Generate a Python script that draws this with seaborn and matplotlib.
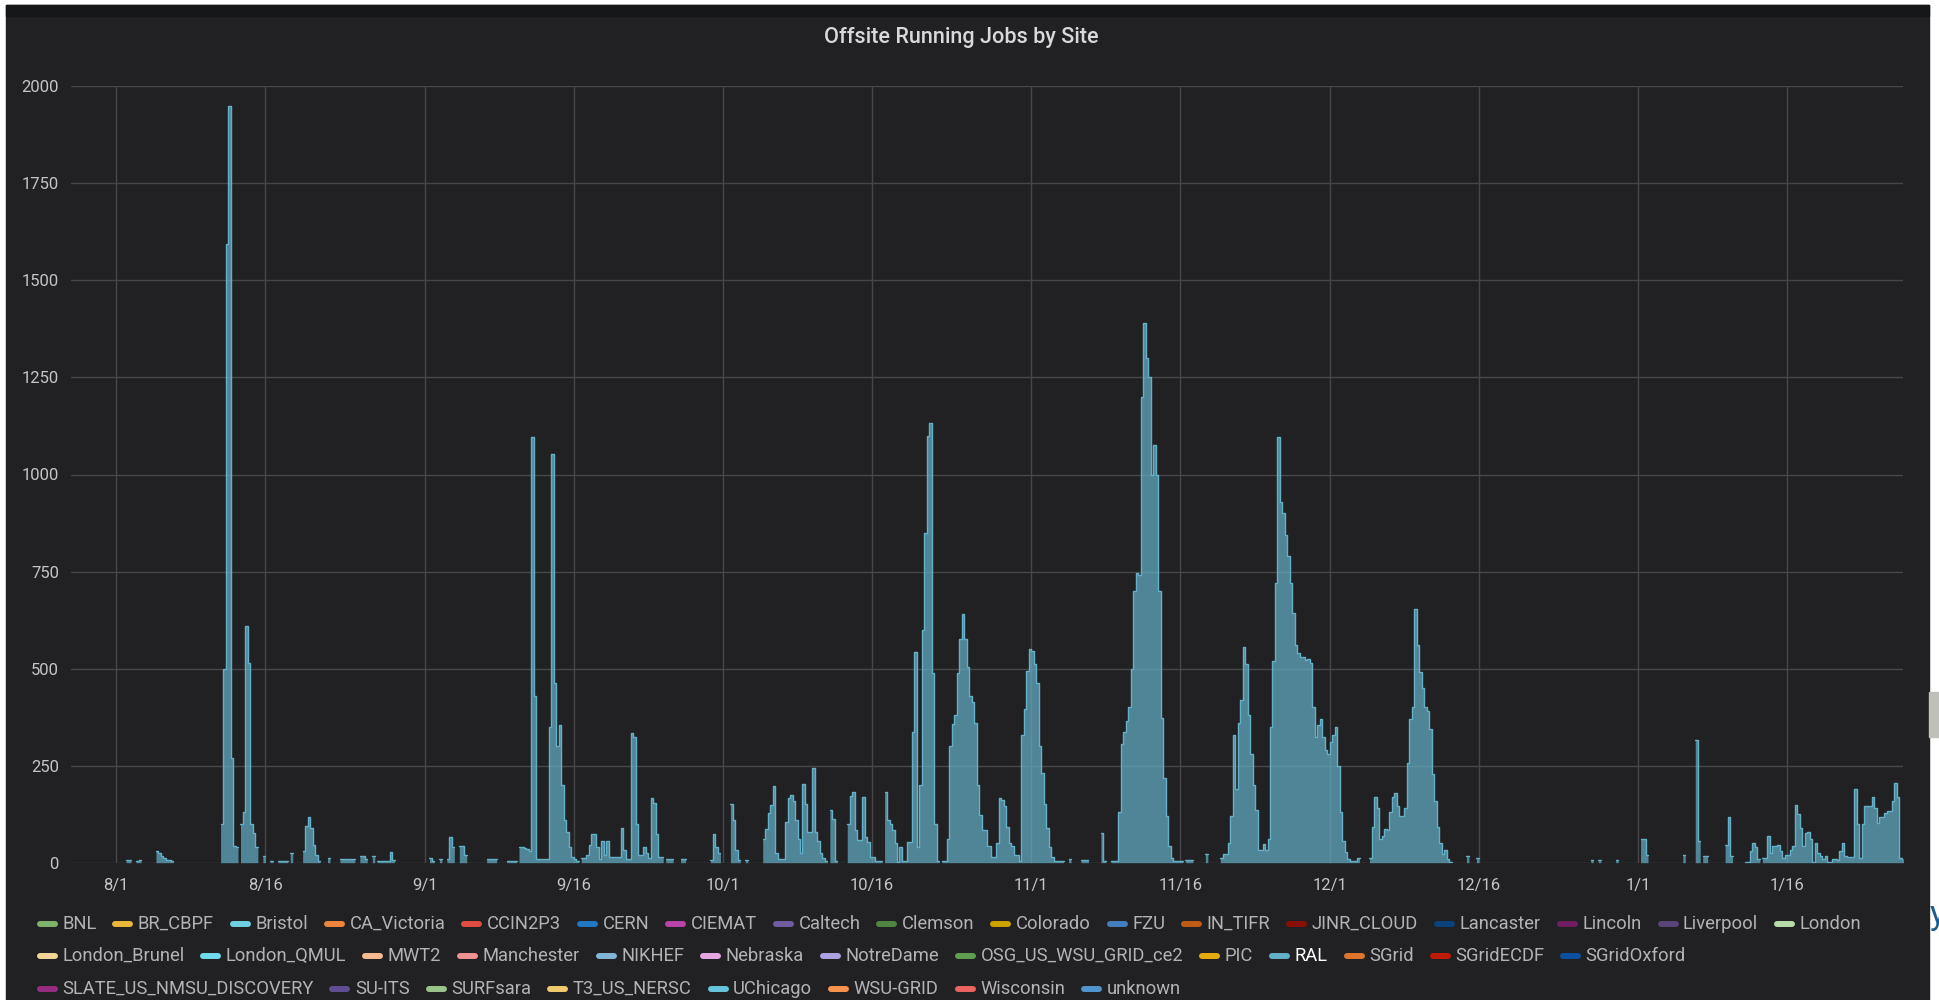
import matplotlib
matplotlib.use('Agg')
import matplotlib.pyplot as plt
from matplotlib.lines import Line2D
from matplotlib.patches import Rectangle
import numpy as np
import pandas as pd
import seaborn as sns

# RAL running jobs: one row per day, 4 values = 6-hour bins
jul = [[0, 0, 0, 0], [0, 0, 0, 0], [0, 0, 0, 0], [0, 0, 0, 0]]  # 28-31

aug = [
    [0, 0, 0, 0], [8, 8, 0, 0], [5, 8, 0, 0], [0, 0, 0, 0], [31, 25, 18, 12],           # 1-5
    [8, 6, 5, 0], [0, 0, 0, 0], [0, 0, 0, 0], [0, 0, 0, 0], [0, 0, 0, 0],               # 6-10
    [0, 0, 100, 500], [1593, 1948, 270, 43], [40, 0, 100, 131], [609, 514, 100, 76],
    [40, 0, 0, 16],                                                                     # 11-15
    [0, 0, 5, 0], [0, 4, 4, 4], [4, 0, 26, 0], [0, 0, 0, 29], [94, 118, 90, 46],        # 16-20
    [20, 5, 0, 0], [0, 12, 0, 0], [0, 0, 9, 9], [9, 9, 9, 9], [0, 0, 18, 18],           # 21-25
    [10, 0, 0, 18], [0, 5, 5, 5], [5, 5, 27, 8], [0, 0, 0, 0], [0, 0, 0, 0],            # 26-30
    [0, 0, 0, 0],                                                                       # 31
]

sep = [
    [0, 0, 12, 5], [0, 0, 9, 0], [0, 10, 65, 40], [0, 0, 43, 43], [20, 0, 0, 0],        # 1-5
    [0, 0, 0, 0], [0, 9, 9, 9], [9, 0, 0, 0], [0, 5, 5, 5], [5, 0, 40, 40],             # 6-10
    [38, 35, 31, 1096], [429, 9, 9, 9], [9, 9, 350, 1053], [462, 300, 355, 200],
    [110, 80, 41, 15],                                                                  # 11-15
    [10, 5, 0, 11], [11, 20, 45, 74], [74, 41, 10, 56], [20, 56, 14, 14], [14, 14, 14, 90],  # 16-20
    [33, 10, 10, 333], [324, 100, 20, 20], [41, 24, 11, 166], [153, 75, 15, 15],
    [0, 9, 9, 9],                                                                       # 21-25
    [0, 0, 0, 9], [9, 0, 0, 0], [0, 0, 0, 0], [0, 0, 0, 8], [75, 40, 24, 0],            # 26-30
]

octo = [
    [0, 0, 0, 150], [110, 33, 7, 0], [0, 7, 0, 0], [0, 0, 0, 0], [60, 88, 127, 148],    # 1-5
    [198, 24, 9, 9], [9, 105, 166, 174], [160, 110, 60, 24], [204, 150, 80, 80],
    [243, 80, 55, 24],                                                                  # 6-10
    [11, 5, 0, 137], [112, 5, 0, 0], [0, 0, 100, 171], [183, 84, 58, 58],
    [168, 67, 54, 15],                                                                  # 11-15
    [15, 5, 5, 5], [0, 181, 110, 100], [84, 50, 3, 41], [5, 5, 54, 54],
    [337, 542, 40, 200],                                                                # 16-20
    [600, 850, 1099, 1133], [488, 100, 5, 0], [5, 5, 60, 300], [357, 380, 489, 576],
    [640, 576, 503, 430],                                                               # 21-25
    [415, 360, 200, 122], [83, 83, 44, 44], [15, 15, 50, 166], [161, 147, 93, 50],
    [44, 20, 20, 5],                                                                    # 26-30
    [330, 396, 493, 550],                                                               # 31
]

nov = [
    [545, 513, 464, 300], [230, 150, 90, 40], [15, 5, 5, 5], [5, 0, 0, 10], [0, 0, 0, 0],  # 1-5
    [7, 7, 7, 0], [0, 0, 0, 0], [76, 5, 0, 0], [5, 5, 5, 130], [307, 336, 366, 400],    # 6-10
    [500, 700, 747, 740], [1200, 1390, 1300, 1250], [1000, 1075, 1000, 700],
    [372, 219, 120, 42], [13, 5, 5, 5],                                                 # 11-15
    [5, 0, 8, 8], [8, 0, 0, 0], [0, 0, 22, 0], [0, 0, 0, 0], [13, 22, 22, 52],          # 16-20
    [120, 330, 190, 360], [420, 555, 511, 380], [280, 200, 135, 32], [32, 47, 32, 60],
    [350, 520, 721, 1097],                                                              # 21-25
    [930, 902, 843, 790], [720, 643, 560, 540], [530, 530, 521, 526],
    [515, 400, 325, 355], [370, 325, 290, 281],                                         # 26-30
]

dec = [
    [310, 330, 350, 250], [130, 57, 27, 10], [5, 5, 5, 13], [0, 0, 0, 0],
    [13, 91, 169, 140],                                                                 # 1-5
    [60, 70, 86, 85], [130, 169, 179, 145], [120, 120, 140, 257], [369, 400, 653, 560],
    [491, 450, 400, 390],                                                               # 6-10
    [345, 228, 160, 91], [50, 22, 32, 10], [3, 0, 0, 0], [0, 0, 0, 18], [0, 0, 0, 13],  # 11-15
    [0, 0, 0, 0], [0, 0, 0, 0], [0, 0, 0, 0], [0, 0, 0, 0], [0, 0, 0, 0],               # 16-20
    [0, 0, 0, 0], [0, 0, 0, 0], [0, 0, 0, 0], [0, 0, 0, 0], [0, 0, 0, 0],               # 21-25
    [0, 0, 0, 0], [0, 8, 0, 0], [8, 0, 0, 0], [0, 0, 0, 6], [0, 0, 0, 0],               # 26-30
    [0, 0, 0, 0],                                                                       # 31
]

jan = [
    [0, 62, 62, 20], [0, 0, 0, 0], [0, 0, 0, 0], [0, 0, 0, 0], [0, 0, 19, 0],           # 1-5
    [0, 0, 0, 316], [55, 0, 16, 16], [0, 0, 0, 0], [0, 0, 0, 46], [117, 16, 0, 0],      # 6-10
    [0, 0, 0, 3], [3, 29, 52, 40], [10, 0, 12, 12], [68, 25, 44, 44], [46, 30, 12, 21], # 11-15
    [21, 33, 42, 149], [125, 90, 42, 76], [78, 60, 3, 50], [25, 18, 10, 18],
    [3, 3, 9, 9],                                                                       # 16-20
    [8, 30, 52, 18], [15, 15, 15, 189], [100, 11, 100, 146], [146, 146, 169, 140],
    [102, 119, 119, 128],                                                               # 21-25
    [132, 134, 160, 205], [170, 12, 10, 10],                                            # 26-27
]

tick_dates = ['2018-08-01', '2018-08-16', '2018-09-01', '2018-09-16', '2018-10-01',
              '2018-10-16', '2018-11-01', '2018-11-16', '2018-12-01', '2018-12-16',
              '2019-01-01', '2019-01-16']
y_ticks = [0, 250, 500, 750, 1000, 1250, 1500, 1750, 2000]

row1 = ['BNL', 'BR_CBPF', 'Bristol', 'CA_Victoria', 'CCIN2P3', 'CERN', 'CIEMAT', 'Caltech',
        'Clemson', 'Colorado', 'FZU', 'IN_TIFR', 'JINR_CLOUD', 'Lancaster', 'Lincoln',
        'Liverpool', 'London']
row2 = ['London_Brunel', 'London_QMUL', 'MWT2', 'Manchester', 'NIKHEF', 'Nebraska', 'NotreDame',
        'OSG_US_WSU_GRID_ce2', 'PIC', 'RAL', 'SGrid', 'SGridECDF', 'SGridOxford']
row3 = ['SLATE_US_NMSU_DISCOVERY', 'SU-ITS', 'SURFsara', 'T3_US_NERSC', 'UChicago', 'WSU-GRID',
        'Wisconsin', 'unknown']

palette = ['#7EB26D', '#EAB839', '#6ED0E0', '#EF843C', '#E24D42', '#1F78C1', '#BA43A9', '#705DA0',
           '#508642', '#CCA300', '#447EBC', '#C15C17', '#890F02', '#0A437C', '#6D1F62', '#584477',
           '#B7DBAB', '#F4D598', '#70DBED', '#F9BA8F', '#F29191', '#82B5D8', '#E5A8E2', '#AEA2E0',
           '#629E51', '#E5AC0E', '#64B0C8', '#E0752D', '#BF1B00', '#0A50A1', '#962D82', '#614D93',
           '#9AC48A', '#F2C96D', '#65C5DB', '#F9934E', '#EA6460', '#5195CE']

# series
jobs = np.array(jul + aug + sep + octo + nov + dec + jan, dtype=float).ravel()
times = pd.date_range('2018-07-28', periods=len(jobs) + 1, freq='6h')
fill_y = np.append(jobs, jobs[-1])

# outline only where jobs are running (gaps stay empty like grafana nulls)
rows = []
run = 0
for i, v in enumerate(jobs):
    if v <= 0:
        continue
    if i == 0 or jobs[i - 1] <= 0:
        run += 1
    rows.append((times[i], v, run))
    if i + 1 == len(jobs) or jobs[i + 1] <= 0:
        rows.append((times[i + 1], v, run))
line_df = pd.DataFrame(rows, columns=['time', 'jobs', 'run'])

W, H = 1939, 1000
PANEL = '#212124'
RAL = '#64B0C8'

sns.set_theme(style='dark', rc={'axes.facecolor': PANEL, 'figure.facecolor': 'white'})
plt.rcParams['font.family'] = ['Roboto', 'DejaVu Sans']

fig = plt.figure(figsize=(W / 100, H / 100), dpi=100)
fig.patches.append(Rectangle((6 / W, 0), 1923 / W, 0.995, transform=fig.transFigure,
                             color=PANEL, zorder=-10))
fig.patches.append(Rectangle((6 / W, 0.984), 1923 / W, 0.011, transform=fig.transFigure,
                             color='#161719', zorder=-9))
fig.patches.append(Rectangle((1929 / W, 0.263), 10 / W, 0.045, transform=fig.transFigure,
                             color='#c0c0bb', zorder=-9))
fig.text(1930 / W, 0.085, 'y', fontsize=24, color='#1d5c8c', va='center', ha='left')

ax = fig.add_axes([0.03687, 0.1373, 0.94472, 0.7764])

ax.fill_between(times, fill_y, step='post', color=RAL, alpha=0.7, linewidth=0)
sns.lineplot(data=line_df, x='time', y='jobs', units='run', estimator=None,
             drawstyle='steps-post', color=RAL, linewidth=1, ax=ax, legend=False)

ax.set_xlim(pd.Timestamp('2018-07-27 12:15'), pd.Timestamp('2019-01-27 16:00'))
ax.set_ylim(0, 2000)
ax.set_yticks(y_ticks)
ax.set_yticklabels([str(v) for v in y_ticks])
tick_ts = [pd.Timestamp(d) for d in tick_dates]
ax.set_xticks(tick_ts)
ax.set_xticklabels([f'{d.month}/{d.day}' for d in tick_ts])
ax.set_xlabel('')
ax.set_ylabel('')

ax.grid(True, color='#47474a', linewidth=1)
for s in ax.spines.values():
    s.set_visible(False)
ax.tick_params(axis='both', length=0, colors='#c4c5c7', labelsize=12)
ax.tick_params(axis='x', pad=11)
ax.tick_params(axis='y', pad=9)

fig.text(961 / W, 1 - 38 / H, 'Offsite Running Jobs by Site', ha='center', va='center',
         fontsize=15.6, color='#d8d9da', fontweight='medium')

# legend laid out like grafana's flowing legend: marker, name, fixed gap
names = row1 + row2 + row3
site_color = dict(zip(names, palette))
renderer = fig.canvas.get_renderer()
for row, yc in [(row1, 924), (row2, 956), (row3, 989)]:
    x = 62.0
    for n in row:
        m0 = x - 25.5
        fig.add_artist(Line2D([(m0 + 3) / W, (m0 + 18) / W], [1 - yc / H] * 2,
                              transform=fig.transFigure, color=site_color[n], lw=4.3,
                              solid_capstyle='round'))
        t = fig.text(x / W, 1 - yc / H, n, ha='left', va='center', fontsize=13.2,
                     color='#ffffff' if n == 'RAL' else '#b2b3b5')
        x += t.get_window_extent(renderer).width + 41.5

fig.savefig('out.png', dpi=100, facecolor=fig.get_facecolor())
